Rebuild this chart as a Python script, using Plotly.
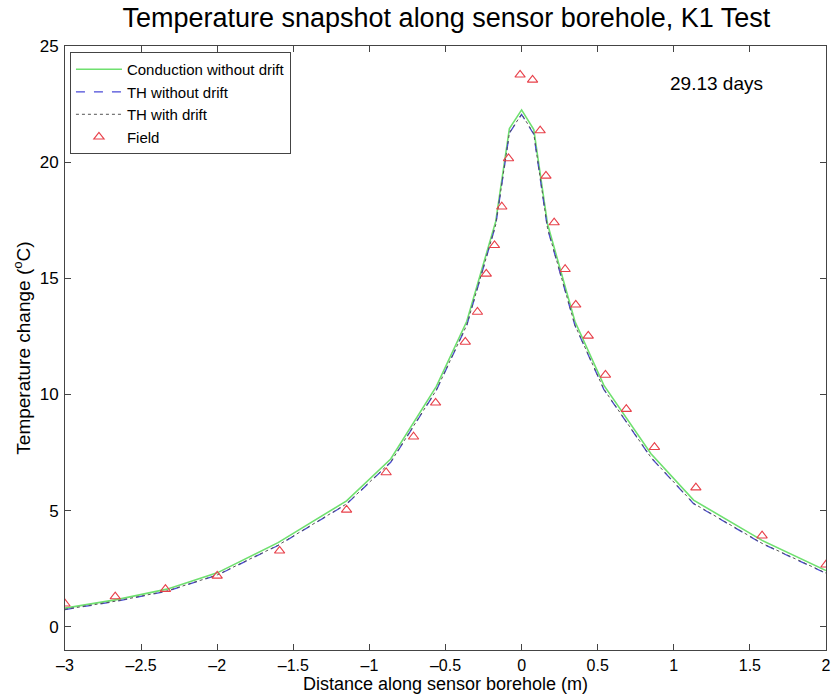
import plotly.graph_objects as go

# Model node positions along the borehole (m)
x_model = [-3.0, -2.66, -2.33, -2.0, -1.6, -1.15, -0.86, -0.56, -0.36, -0.17,
           -0.08, 0.0, 0.08, 0.17, 0.35, 0.54, 0.85, 1.13, 1.58, 2.0]
# Simulated temperature change (deg C)
t_conduction = [0.80, 1.17, 1.62, 2.32, 3.62, 5.42, 7.22, 10.35, 13.15, 17.45,
                21.45, 22.25, 21.40, 17.35, 13.15, 10.40, 7.45, 5.45, 3.72, 2.42]
t_th_no_drift = [0.74, 1.10, 1.53, 2.22, 3.50, 5.28, 7.08, 10.18, 12.98, 17.30,
                 21.25, 22.05, 21.20, 17.15, 12.98, 10.22, 7.28, 5.30, 3.58, 2.30]
t_th_drift = [0.75, 1.11, 1.54, 2.23, 3.51, 5.29, 7.09, 10.19, 12.99, 17.31,
              21.26, 22.07, 21.22, 17.17, 12.99, 10.23, 7.29, 5.31, 3.59, 2.31]

# Field measurements
x_field = [-3.0, -2.67, -2.34, -2.0, -1.59, -1.15, -0.89, -0.71, -0.565, -0.37,
           -0.29, -0.232, -0.178, -0.13, -0.086, -0.01, 0.072, 0.122, 0.16, 0.214,
           0.286, 0.356, 0.438, 0.551, 0.688, 0.873, 1.145, 1.58, 2.0]
t_field = [0.99, 1.30, 1.62, 2.19, 3.27, 5.03, 6.64, 8.18, 9.64, 12.26,
           13.55, 15.19, 16.42, 18.08, 20.16, 23.76, 23.54, 21.36, 19.41, 17.40,
           15.39, 13.86, 12.52, 10.84, 9.37, 7.73, 5.99, 3.92, 2.67]

x_ticks = [-3, -2.5, -2, -1.5, -1, -0.5, 0, 0.5, 1, 1.5, 2]
y_ticks = [0, 5, 10, 15, 20, 25]

font_family = "Liberation Sans, Arial, sans-serif"

fig = go.Figure()
fig.add_trace(go.Scatter(x=x_model, y=t_conduction, mode="lines",
                         name="Conduction without drift",
                         line=dict(color="#6fe06f", width=1.6)))
fig.add_trace(go.Scatter(x=x_model, y=t_th_no_drift, mode="lines",
                         name="TH without drift",
                         line=dict(color="#4a4ad8", width=1.3, dash="dash")))
fig.add_trace(go.Scatter(x=x_model, y=t_th_drift, mode="lines",
                         name="TH with drift",
                         line=dict(color="#555555", width=1, dash="dot")))
fig.add_trace(go.Scatter(x=x_field, y=t_field, mode="markers", name="Field",
                         marker=dict(symbol="triangle-up-open", size=9,
                                     color="#e8404a", line=dict(width=1.1))))

fig.add_annotation(x=1.28, y=23.4, text="29.13 days", showarrow=False,
                   font=dict(size=19, color="black", family=font_family))

axis_common = dict(
    showgrid=False, zeroline=False, showline=True, mirror="ticks",
    linecolor="#444444", linewidth=1, ticks="inside", ticklen=6,
    tickcolor="#444444",
)

fig.update_layout(
    width=836, height=699,
    margin=dict(l=65, r=5, t=46, b=49),
    paper_bgcolor="white", plot_bgcolor="white",
    title=dict(text="Temperature snapshot along sensor borehole, K1 Test",
               x=0.534, xanchor="center", y=0.988, yanchor="top",
               font=dict(size=27, color="black", family=font_family)),
    font=dict(family=font_family, color="black"),
    xaxis=dict(range=[-3, 2], tickvals=x_ticks,
               ticktext=[f"{v:g}".replace("-", "\u2013") for v in x_ticks],
               tickfont=dict(size=16, color="black", family=font_family),
               title=dict(text="Distance along sensor borehole (m)",
                          font=dict(size=18), standoff=0),
               ticklabelstandoff=1, **axis_common),
    yaxis=dict(range=[-1, 25], tickvals=y_ticks,
               tickfont=dict(size=17, color="black", family=font_family),
               title=dict(text="Temperature change (<sup>o</sup>C)",
                          font=dict(size=19), standoff=4),
               ticklabelstandoff=2, **axis_common),
    legend=dict(x=0.0065, y=0.99, xanchor="left", yanchor="top",
                bgcolor="white", bordercolor="#444444", borderwidth=1,
                font=dict(size=15, color="black", family=font_family),
                tracegroupgap=0, itemwidth=46),
    showlegend=True,
)

fig.write_html("out.html")
